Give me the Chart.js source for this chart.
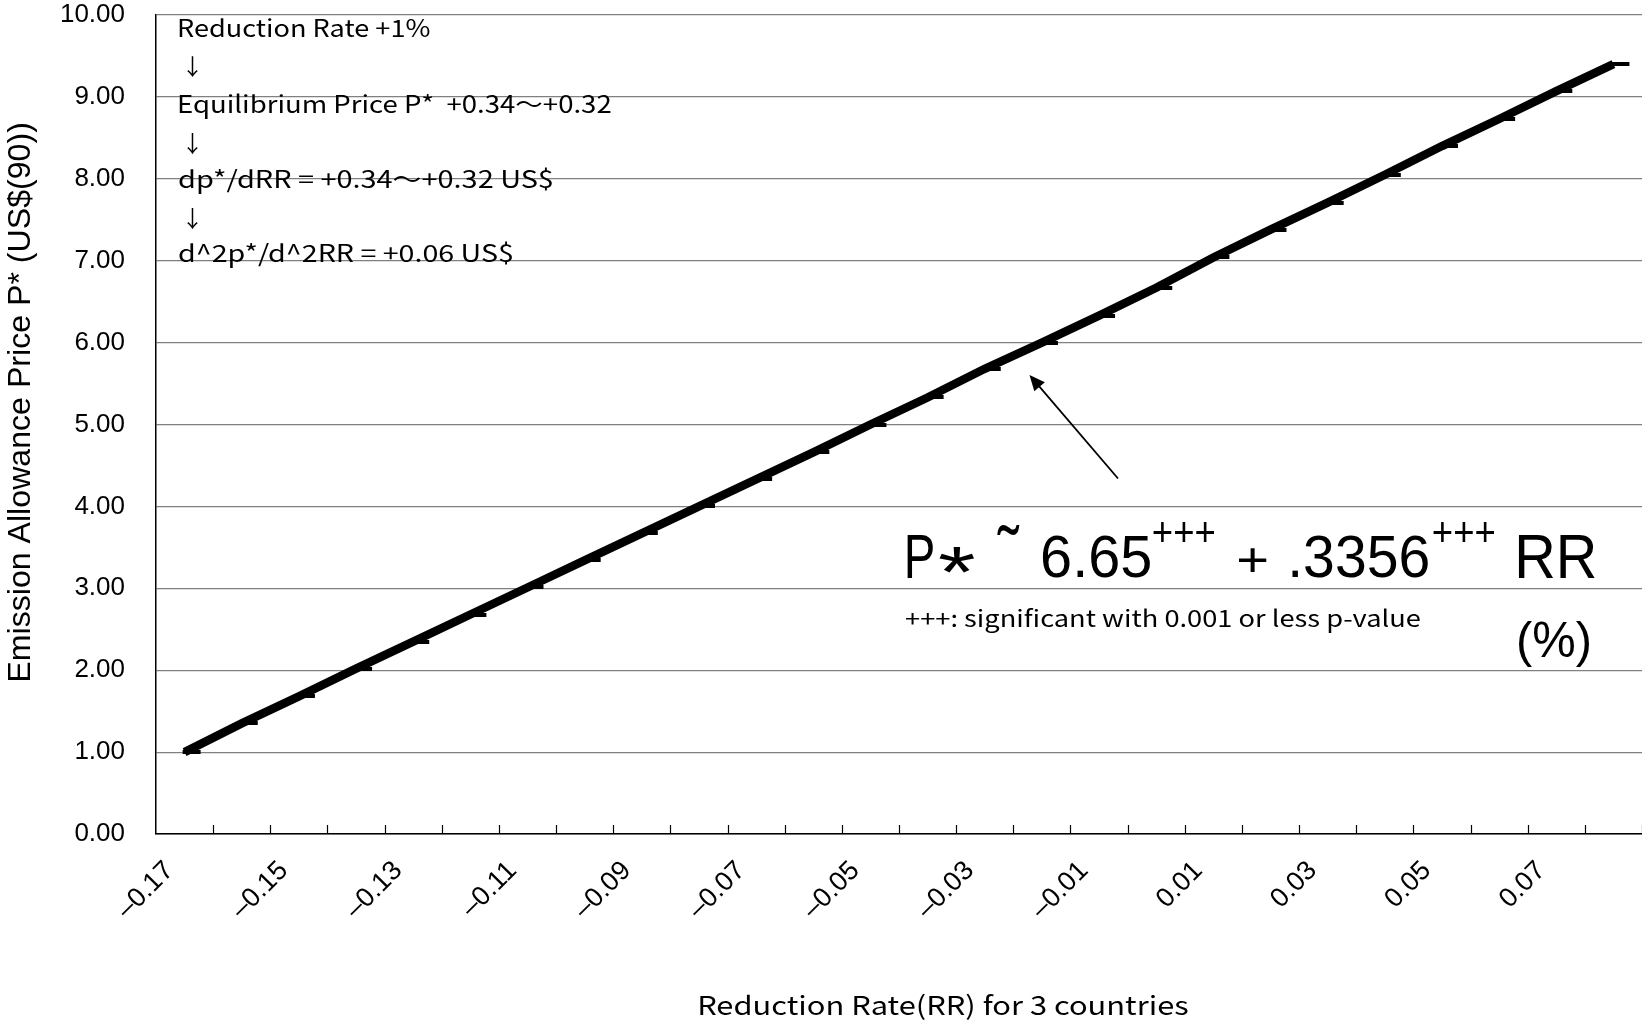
<!DOCTYPE html>
<html>
<head>
<meta charset="utf-8">
<title>Emission Allowance Price vs Reduction Rate</title>
<script src="https://cdn.jsdelivr.net/npm/chart.js"></script>
<style>
  html, body { margin: 0; padding: 0; background: #ffffff; }
  #wrap { width: 1642px; height: 1024px; }
</style>
</head>
<body>
<div id="wrap"><canvas id="price-chart" width="1642" height="1024"></canvas></div>
<script>
// categories (reduction rate for 3 countries)
const reductionRates = [
  '–0.17', '–0.16', '–0.15', '–0.14', '–0.13', '–0.12', '–0.11', '–0.10', '–0.09',
  '–0.08', '–0.07', '–0.06', '–0.05', '–0.04', '–0.03', '–0.02', '–0.01', '0.00',
  '0.01', '0.02', '0.03', '0.04', '0.05', '0.06', '0.07', '0.08'
];
// only every other category gets a label on the axis
const labeledRates = [
  '–0.17', '–0.15', '–0.13', '–0.11', '–0.09', '–0.07', '–0.05',
  '–0.03', '–0.01', '0.01', '0.03', '0.05', '0.07'
];
// equilibrium price P* (US$(90))
const equilibriumPrices = [
  1.00, 1.35, 1.68, 2.02, 2.35, 2.68, 3.01, 3.34, 3.67, 4.00, 4.33, 4.66, 5.00,
  5.33, 5.68, 6.00, 6.33, 6.67, 7.04, 7.38, 7.71, 8.05, 8.40, 8.73, 9.07, 9.40
];
const priceTicks = ['0.00', '1.00', '2.00', '3.00', '4.00', '5.00', '6.00', '7.00', '8.00', '9.00', '10.00'];

const noteLines = [
  'Reduction Rate +1%',
  '↓',
  'Equilibrium Price P*  +0.34～+0.32',
  '↓',
  'dp*/dRR = +0.34～+0.32 US$',
  '↓',
  'd^2p*/d^2RR = +0.06 US$'
];
const xTitle = 'Reduction Rate(RR) for 3 countries';
const yTitle = 'Emission Allowance Price P* (US$(90))';

const CJK = '"Noto Sans CJK JP", "Noto Sans", sans-serif';
const SANS = '"Liberation Sans", Arial, sans-serif';

// draw text so that its ink box fills the given box
function inkFit(ctx, text, font, x0, x1, yTop, yBottom) {
  ctx.font = font;
  ctx.textAlign = 'left';
  ctx.textBaseline = 'alphabetic';
  const m = ctx.measureText(text);
  const w = m.actualBoundingBoxLeft + m.actualBoundingBoxRight;
  const h = m.actualBoundingBoxAscent + m.actualBoundingBoxDescent;
  const sx = (x1 - x0) / w;
  const sy = (yBottom - yTop) / h;
  ctx.save();
  ctx.translate(x0 + m.actualBoundingBoxLeft * sx, yTop + m.actualBoundingBoxAscent * sy);
  ctx.scale(sx, sy);
  ctx.fillText(text, 0, 0);
  ctx.restore();
}

// draw text on a baseline, stretched only sideways to a given ink width
function widthFit(ctx, text, font, x0, x1, baseline) {
  ctx.font = font;
  ctx.textAlign = 'left';
  ctx.textBaseline = 'alphabetic';
  const m = ctx.measureText(text);
  const w = m.actualBoundingBoxLeft + m.actualBoundingBoxRight;
  const sx = (x1 - x0) / w;
  ctx.save();
  ctx.translate(x0 + m.actualBoundingBoxLeft * sx, baseline);
  ctx.scale(sx, 1);
  ctx.fillText(text, 0, 0);
  ctx.restore();
}

// Excel "dash" marker, it only shows on the lower right of the thick line
const dashMarker = document.createElement('canvas');
dashMarker.width = 36;
dashMarker.height = 4;
(function () {
  const c = dashMarker.getContext('2d');
  c.fillStyle = '#000';
  c.fillRect(16, 0, 18, 4);
})();

// Excel style tick marks pointing up into the plot
const insideTicks = {
  id: 'insideTicks',
  afterDatasetsDraw(chart) {
    const { ctx, chartArea } = chart;
    const x = chart.scales.x;
    const half = (x.getPixelForValue(1) - x.getPixelForValue(0)) / 2;
    ctx.save();
    ctx.strokeStyle = '#000';
    ctx.lineWidth = 1.2;
    ctx.beginPath();
    for (let i = 0; i < reductionRates.length; i++) {
      const px = Math.round(x.getPixelForValue(i) + half) + 0.5;
      ctx.moveTo(px, chartArea.bottom);
      ctx.lineTo(px, chartArea.bottom - 9);
    }
    ctx.stroke();
    ctx.restore();
  }
};

const annotations = {
  id: 'annotations',
  afterDraw(chart) {
    const { ctx } = chart;
    ctx.save();
    ctx.fillStyle = '#000';

    // notes in the upper left corner
    const noteWidths = [251, 0, 432, 0, 373, 0, 333];
    const noteBaselines = [37.3, 0, 112.5, 0, 187.5, 0, 262];
    const arrowBoxes = [[56.7, 78.3], [133, 155], [208, 230]];
    let a = 0;
    noteLines.forEach((line, i) => {
      if (line === '↓') {
        const [t, b] = arrowBoxes[a++];
        inkFit(ctx, line, '24px ' + CJK, 187, 198, t, b);
      } else {
        widthFit(ctx, line, '24px ' + CJK, 179.3, 179.3 + noteWidths[i], noteBaselines[i]);
      }
    });

    // regression equation
    inkFit(ctx, 'P', '60px ' + SANS, 907, 933, 535, 578);
    inkFit(ctx, '*', '60px ' + SANS, 938, 975, 548, 573);
    inkFit(ctx, '˜', '60px ' + SANS, 997, 1020, 525, 535);
    inkFit(ctx, '6.65', '60px ' + SANS, 1043, 1150, 535, 578);
    inkFit(ctx, '+++', '32px ' + SANS, 1153, 1215, 522, 542);
    inkFit(ctx, '+', '60px ' + SANS, 1238, 1267, 548, 572);
    inkFit(ctx, '.3356', '60px ' + SANS, 1292, 1428, 535, 578);
    inkFit(ctx, '+++', '32px ' + SANS, 1433, 1495, 522, 542);
    inkFit(ctx, 'RR', '60px ' + SANS, 1518, 1595, 535, 578);
    widthFit(ctx, '+++: significant with 0.001 or less p-value', '23px ' + CJK, 905, 1420, 627);
    inkFit(ctx, '(%)', '48px ' + SANS, 1518, 1590, 620, 667);

    // pointer from the equation to the line
    const from = [1118, 478.5];
    const to = [1029.5, 375];
    const ang = Math.atan2(to[1] - from[1], to[0] - from[0]);
    ctx.strokeStyle = '#000';
    ctx.lineWidth = 1.8;
    ctx.beginPath();
    ctx.moveTo(from[0], from[1]);
    ctx.lineTo(to[0] - Math.cos(ang) * 10, to[1] - Math.sin(ang) * 10);
    ctx.stroke();
    ctx.beginPath();
    ctx.moveTo(to[0], to[1]);
    ctx.lineTo(to[0] - Math.cos(ang - 0.42) * 17, to[1] - Math.sin(ang - 0.42) * 17);
    ctx.lineTo(to[0] - Math.cos(ang + 0.42) * 17, to[1] - Math.sin(ang + 0.42) * 17);
    ctx.closePath();
    ctx.fill();

    // axis titles
    widthFit(ctx, xTitle, '26px ' + CJK, 699.5, 1188.5, 1015);
    ctx.save();
    ctx.translate(30.4, 0);
    ctx.rotate(-Math.PI / 2);
    widthFit(ctx, yTitle, '31px ' + SANS, -680.6, -123.5, 0);
    ctx.restore();

    ctx.restore();
  }
};

const priceChart = document.getElementById('price-chart');

new Chart(priceChart, {
  type: 'line',
  data: {
    labels: reductionRates,
    datasets: [
      {
        label: 'P*',
        data: equilibriumPrices,
        borderColor: '#000000',
        borderWidth: 8.5,
        borderCapStyle: 'butt',
        tension: 0,
        fill: false,
        pointStyle: dashMarker,
        pointRadius: 8,
        clip: false
      }
    ]
  },
  options: {
    responsive: false,
    animation: false,
    layout: {
      autoPadding: false,
      padding: { top: 15, right: 0, bottom: 0, left: 0 }
    },
    scales: {
      x: {
        type: 'category',
        offset: true,
        grid: {
          display: false,
          drawTicks: false
        },
        border: {
          display: true,
          color: '#000000',
          width: 1.5
        },
        ticks: {
          autoSkip: false,
          maxRotation: 45,
          minRotation: 45,
          padding: 21,
          labelOffset: -15,
          color: '#000000',
          font: { size: 27, family: SANS },
          callback: function (value, index) {
            const label = reductionRates[index];
            return labeledRates.includes(label) ? label : '';
          }
        },
        afterFit: function (scale) {
          scale.height = 190;
          scale.paddingLeft = 0;
          scale.paddingRight = 0;
        }
      },
      y: {
        min: 0,
        max: 10,
        grid: {
          color: '#808080',
          lineWidth: 1.2,
          drawTicks: false
        },
        border: {
          display: true,
          color: '#000000',
          width: 1.5
        },
        ticks: {
          stepSize: 1,
          padding: 31,
          color: '#000000',
          font: { size: 26, family: SANS, lineHeight: 1 },
          callback: function (value, index) {
            return priceTicks[index];
          }
        },
        afterFit: function (scale) {
          scale.width = 156;
          scale.paddingTop = 0;
          scale.paddingBottom = 0;
        }
      }
    },
    plugins: {
      legend: { display: false },
      tooltip: { enabled: false }
    }
  },
  plugins: [insideTicks, annotations]
});
</script>
</body>
</html>
